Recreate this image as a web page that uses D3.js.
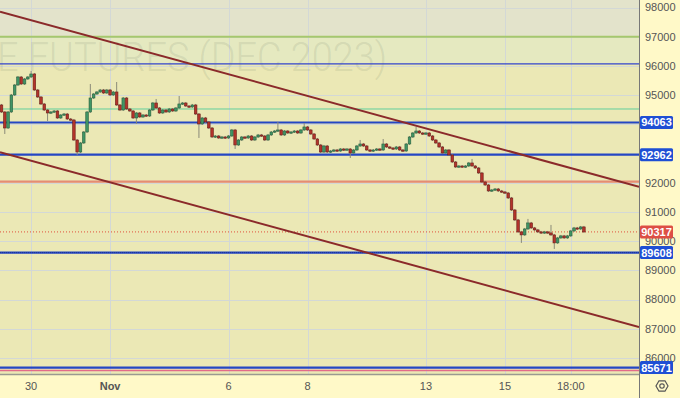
<!DOCTYPE html>
<head>
<meta charset="utf-8">
<style>
body, html {
  margin: 0;
  padding: 0;
  background: #fff9c8;
  font-family: "Liberation Sans", Arial, sans-serif;
}
.tick-label {
  font-size: 11px;
  fill: #555;
}
.box-label {
  font-size: 11px;
  font-weight: bold;
  fill: #fff;
}
</style>
<script src="https://d3js.org/d3.v7.min.js"></script>
</head>
<body>
<div id="chart"></div>
<script>

// ---- data (2h candles, price in USD) ----
var firstOpen = 94663;
var closes = [
  94423, 93875, 94423, 95005, 95347, 95621, 95381, 95553, 95621, 95724,
  95176, 94936, 94697, 94491, 94389, 94423, 94457, 94218, 94320, 94354,
  94183, 94149, 93464, 93053, 93362, 93738, 94423, 94902, 95039, 95108,
  95176, 95073, 95176, 95005, 95108, 94663, 94491, 94902, 94526, 94457,
  94218, 94389, 94252, 94320, 94286, 94491, 94731, 94560, 94389, 94491,
  94423, 94526, 94457, 94560, 94697, 94731, 94628, 94594, 94663, 94354,
  94012, 94218, 94081, 93875, 93567, 93601, 93533, 93567, 93533, 93601,
  93807, 93293, 93464, 93567, 93533, 93601, 93464, 93567, 93636, 93601,
  93464, 93636, 93738, 93772, 93807, 93636, 93772, 93704, 93738, 93772,
  93704, 93807, 93910, 93807, 93670, 93499, 93293, 93053, 93259, 93053,
  93088, 93122, 93088, 93156, 93122, 93156, 93019, 93122, 93259, 93327,
  93259, 93122, 93088, 93122, 93156, 93122, 93327, 93225, 93190, 93156,
  93225, 93122, 93088, 93327, 93567, 93704, 93772, 93704, 93670, 93704,
  93601, 93464, 93362, 93225, 93019, 93122, 92951, 92711, 92540, 92574,
  92540, 92574, 92677, 92574, 92506, 92335, 92027, 91924, 91719, 91753,
  91787, 91719, 91685, 91650, 91479, 91068, 90727, 90317, 90214, 90418,
  90624, 90453, 90385, 90317, 90282, 90317, 90282, 90214, 89940, 90111,
  90180, 90111, 90180, 90350, 90453, 90418, 90487, 90317
];
// long wicks: [candle index, high, low]
var longWicks = [
  [1, null, 93704], [9, 95792, null], [14, null, 94149], [23, null, 92985],
  [27, 95347, null], [35, 95415, null], [41, null, 94047], [47, 94834, null],
  [54, 94936, null], [60, null, 93567], [71, null, 93190], [84, 94047, null],
  [92, 94012, null], [106, null, 92882], [109, 93430, null], [116, 93464, null],
  [126, 93875, null], [143, 92780, null], [158, null, 89974], [160, 90727, null],
  [167, 90521, null], [168, null, 89768]
];

var priceTicks = [98000, 97000, 96000, 95000, 94000, 93000, 92000, 91000, 90000, 89000, 88000, 87000, 86000];
var timeTickIdx = [9, 33, 69, 93, 129, 153, 173];
var timeTickLabels = ["30", "Nov", "6", "8", "13", "15", "18:00"];

var zoneTop = 97000, zoneMid = 96070;
var mintLevel = 94525;
var salmonLevel = 92036;
var labelledLevels = [94063, 92962, 89608, 85671];
var pinkLevel = 85574;
var lastPrice = 90317;
// channel lines: [[index, price], [index, price]]
var channelUpper = [[0, 97843], [177, 92379]];
var channelLower = [[0, 93030], [177, 87577]];
var watermark = "E FUTURES (DEC 2023)";

// ---- layout ----
var width = 680, height = 398,
    plotW = 639, plotH = 375;

var x = d3.scaleLinear().domain([0, 177]).range([1.5, 583.9]);
var y = d3.scaleLinear().domain([86000, 98000]).range([358, 7.5]);

var svg = d3.select("#chart").append("svg")
    .attr("width", width)
    .attr("height", height);

svg.append("rect").attr("width", width).attr("height", height).attr("fill", "#fff9c8");

svg.append("clipPath").attr("id", "plotclip")
  .append("rect").attr("width", plotW).attr("height", plotH);

var plot = svg.append("g").attr("clip-path", "url(#plotclip)");

// background zones
plot.append("rect").attr("x", 0).attr("y", 0).attr("width", plotW).attr("height", plotH).attr("fill", "#ebe8b5");
plot.append("rect").attr("x", 0).attr("y", 0).attr("width", plotW).attr("height", y(zoneTop)).attr("fill", "#e3e3cb");
plot.append("rect").attr("x", 0).attr("y", y(zoneTop)).attr("width", plotW)
    .attr("height", y(zoneMid) - y(zoneTop)).attr("fill", "#e5e9c0");

// grid
plot.selectAll("line.hgrid").data(priceTicks).enter().append("line")
    .attr("class", "hgrid")
    .attr("x1", 0).attr("x2", plotW)
    .attr("y1", function(d) { return Math.round(y(d)) + 0.5; })
    .attr("y2", function(d) { return Math.round(y(d)) + 0.5; })
    .attr("stroke", "#d3d8d6").attr("stroke-width", 1);
plot.selectAll("line.vgrid").data(timeTickIdx).enter().append("line")
    .attr("class", "vgrid")
    .attr("x1", function(d) { return Math.round(x(d)) + 0.5; })
    .attr("x2", function(d) { return Math.round(x(d)) + 0.5; })
    .attr("y1", 0).attr("y2", plotH)
    .attr("stroke", "#d3d8d6").attr("stroke-width", 1);

// watermark
plot.append("text")
    .attr("x", -3).attr("y", 71)
    .attr("textLength", 390).attr("lengthAdjust", "spacingAndGlyphs")
    .style("font-family", "Roboto, sans-serif")
    .style("font-weight", 300)
    .style("font-size", "40px")
    .attr("fill", "#7f8f74").attr("fill-opacity", 0.18)
    .text(watermark);

function hline(price, color, w) {
  var yy = y(price);
  return plot.append("line")
    .attr("x1", 0).attr("x2", plotW)
    .attr("y1", yy).attr("y2", yy)
    .attr("stroke", color).attr("stroke-width", w);
}

hline(zoneTop, "#a6c86c", 2);
hline(zoneMid, "#3344cc", 1.2);
hline(mintLevel, "#62cf9c", 1);
hline(salmonLevel, "#e58c74", 2.2);
labelledLevels.forEach(function(p) { hline(p, "#2446c4", 2.2); });
hline(89608, "#1a2a70", 1).attr("stroke-dasharray", "1,1").attr("stroke-opacity", 0.6);
hline(pinkLevel, "#e26a8a", 1.4);
hline(lastPrice, "#e0503c", 1).attr("stroke-dasharray", "1,2");

// channel lines
function channel(pts) {
  var slope = (pts[1][1] - pts[0][1]) / (pts[1][0] - pts[0][0]);
  var i0 = x.invert(0), i1 = x.invert(plotW);
  plot.append("line")
    .attr("x1", 0).attr("y1", y(pts[0][1] + slope * (i0 - pts[0][0])))
    .attr("x2", plotW).attr("y2", y(pts[0][1] + slope * (i1 - pts[0][0])))
    .attr("stroke", "#8b2a2a").attr("stroke-width", 2);
}
channel(channelUpper);
channel(channelLower);

// candles
var candles = closes.map(function(c, i) {
  var o = i === 0 ? firstOpen : closes[i - 1];
  return {i: i, o: o, c: c, h: Math.max(o, c), l: Math.min(o, c)};
});
longWicks.forEach(function(w) {
  if (w[1] !== null) candles[w[0]].h = w[1];
  if (w[2] !== null) candles[w[0]].l = w[2];
});

var cg = plot.append("g");
cg.selectAll("line.wick").data(candles).enter().append("line")
    .attr("class", "wick")
    .attr("x1", function(d) { return x(d.i); })
    .attr("x2", function(d) { return x(d.i); })
    .attr("y1", function(d) { return y(d.h) - 1; })
    .attr("y2", function(d) { return y(d.l) + 1; })
    .attr("stroke", "#8a8a78").attr("stroke-width", 1);
cg.selectAll("rect.body").data(candles).enter().append("rect")
    .attr("class", "body")
    .attr("x", function(d) { return x(d.i) - 1.3; })
    .attr("width", 2.6)
    .attr("y", function(d) { return y(Math.max(d.o, d.c)); })
    .attr("height", function(d) { return Math.max(1.2, Math.abs(y(d.o) - y(d.c))); })
    .attr("fill", function(d) { return d.c >= d.o ? "#3f9565" : "#b3332b"; })
    .attr("stroke", function(d) { return d.c >= d.o ? "#2a5f3e" : "#6a1e19"; })
    .attr("stroke-width", 0.6);

// axes borders
svg.append("line").attr("x1", 0).attr("x2", plotW).attr("y1", plotH - 0.5).attr("y2", plotH - 0.5)
    .attr("stroke", "#9a9a90").attr("stroke-width", 1.5);
svg.append("line").attr("x1", plotW + 0.5).attr("x2", plotW + 0.5).attr("y1", 0).attr("y2", height)
    .attr("stroke", "#777").attr("stroke-width", 1);

// price labels (the ones sitting under a level box are covered by it)
var visibleTicks = priceTicks.filter(function(t) {
  return !labelledLevels.some(function(p) { return Math.abs(y(p) - y(t)) < 7; });
});
svg.selectAll("text.ptick").data(visibleTicks).enter().append("text")
    .attr("class", "tick-label ptick")
    .attr("x", 645)
    .attr("y", function(d) { return y(d); })
    .attr("dy", "0.35em")
    .text(function(d) { return d; });

// time labels
svg.selectAll("text.ttick").data(timeTickIdx).enter().append("text")
    .attr("class", "tick-label ttick")
    .attr("x", function(d) { return x(d); })
    .attr("y", 390)
    .attr("text-anchor", "middle")
    .style("font-weight", function(d, i) { return timeTickLabels[i] === "Nov" ? "bold" : null; })
    .text(function(d, i) { return timeTickLabels[i]; });

// value boxes
function valueBox(price, color) {
  var yy = y(price);
  svg.append("rect")
    .attr("x", 640).attr("y", yy - 6.5).attr("width", 33).attr("height", 13).attr("rx", 1.5)
    .attr("fill", color);
  svg.append("text").attr("class", "box-label")
    .attr("x", 656.5).attr("y", yy).attr("dy", "0.36em")
    .attr("text-anchor", "middle")
    .text(price);
}
labelledLevels.forEach(function(p) { valueBox(p, "#1f4fd4"); });
valueBox(lastPrice, "#dd4f45");

// settings icon
var gear = svg.append("g").attr("transform", "translate(662,386)");
gear.append("path")
    .attr("d", d3.range(6).map(function(k) {
      var a = Math.PI / 3 * k;
      return (k ? "L" : "M") + (6 * Math.cos(a)).toFixed(2) + "," + (6 * Math.sin(a)).toFixed(2);
    }).join("") + "Z")
    .attr("fill", "none").attr("stroke", "#555").attr("stroke-width", 1.2);
gear.append("circle").attr("r", 2.2).attr("fill", "none").attr("stroke", "#555").attr("stroke-width", 1.2);

</script>
</body>
</html>
